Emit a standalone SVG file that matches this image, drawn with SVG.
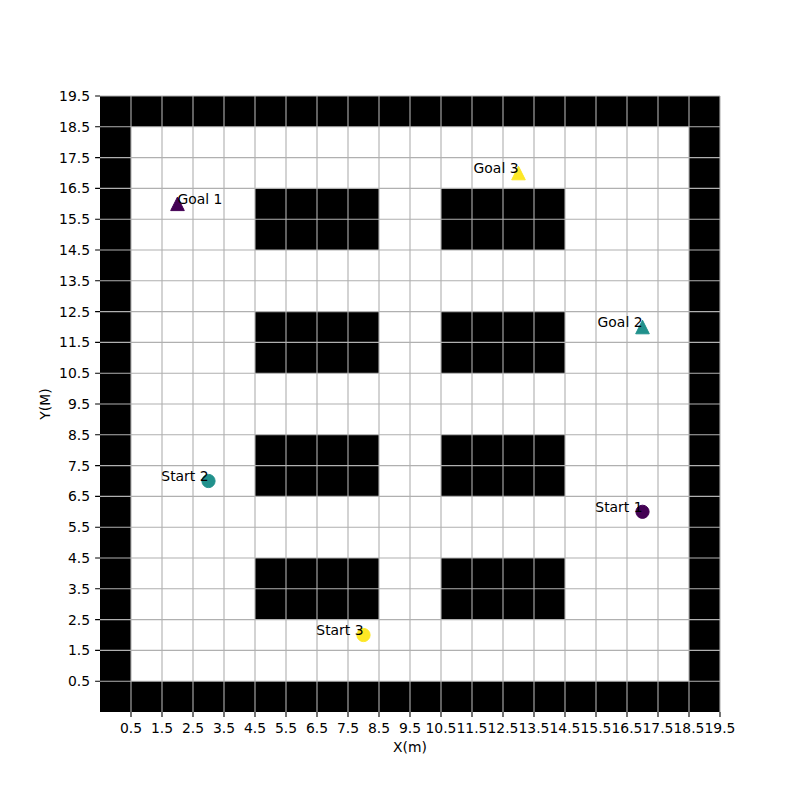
<svg xmlns="http://www.w3.org/2000/svg" width="800" height="800" viewBox="0 0 800 800">
<style>
text{font-family:"DejaVu Sans","Liberation Sans",sans-serif;font-size:13.9px;fill:#000}
.g{stroke:#b0b0b0;stroke-width:1.1}
.t{stroke:#000;stroke-width:1.1}
.xl text{text-anchor:middle}
.yl text{text-anchor:end}
.obs{fill:#000}
</style>
<rect width="800" height="800" fill="#fff"/>
<g id="map">
<rect x="100" y="96" width="620" height="616" fill="#000"/>
<rect x="131" y="126.8" width="558" height="554.4" fill="#fff"/>
<rect class="obs" x="255" y="188.4" width="124" height="61.6"/>
<rect class="obs" x="441" y="188.4" width="124" height="61.6"/>
<rect class="obs" x="255" y="311.6" width="124" height="61.6"/>
<rect class="obs" x="441" y="311.6" width="124" height="61.6"/>
<rect class="obs" x="255" y="434.8" width="124" height="61.6"/>
<rect class="obs" x="441" y="434.8" width="124" height="61.6"/>
<rect class="obs" x="255" y="558" width="124" height="61.6"/>
<rect class="obs" x="441" y="558" width="124" height="61.6"/>
</g>
<g id="grid" class="g">
<path d="M131 96V712M162 96V712M193 96V712M224 96V712M255 96V712M286 96V712M317 96V712M348 96V712M379 96V712M410 96V712M441 96V712M472 96V712M503 96V712M534 96V712M565 96V712M596 96V712M627 96V712M658 96V712M689 96V712M720 96V712"/>
<path d="M100 681.2H720M100 650.4H720M100 619.6H720M100 588.8H720M100 558H720M100 527.2H720M100 496.4H720M100 465.6H720M100 434.8H720M100 404H720M100 373.2H720M100 342.4H720M100 311.6H720M100 280.8H720M100 250H720M100 219.2H720M100 188.4H720M100 157.6H720M100 126.8H720M100 96H720"/>
</g>
<g id="ticks" class="t">
<path d="M131 712v4.9M162 712v4.9M193 712v4.9M224 712v4.9M255 712v4.9M286 712v4.9M317 712v4.9M348 712v4.9M379 712v4.9M410 712v4.9M441 712v4.9M472 712v4.9M503 712v4.9M534 712v4.9M565 712v4.9M596 712v4.9M627 712v4.9M658 712v4.9M689 712v4.9M720 712v4.9"/>
<path d="M100 681.2h-4.9M100 650.4h-4.9M100 619.6h-4.9M100 588.8h-4.9M100 558h-4.9M100 527.2h-4.9M100 496.4h-4.9M100 465.6h-4.9M100 434.8h-4.9M100 404h-4.9M100 373.2h-4.9M100 342.4h-4.9M100 311.6h-4.9M100 280.8h-4.9M100 250h-4.9M100 219.2h-4.9M100 188.4h-4.9M100 157.6h-4.9M100 126.8h-4.9M100 96h-4.9"/>
</g>
<g id="xlabels" class="xl">
<text x="131" y="733">0.5</text><text x="162" y="733">1.5</text><text x="193" y="733">2.5</text><text x="224" y="733">3.5</text><text x="255" y="733">4.5</text><text x="286" y="733">5.5</text><text x="317" y="733">6.5</text><text x="348" y="733">7.5</text><text x="379" y="733">8.5</text><text x="410" y="733">9.5</text><text x="441" y="733">10.5</text><text x="472" y="733">11.5</text><text x="503" y="733">12.5</text><text x="534" y="733">13.5</text><text x="565" y="733">14.5</text><text x="596" y="733">15.5</text><text x="627" y="733">16.5</text><text x="658" y="733">17.5</text><text x="689" y="733">18.5</text><text x="720" y="733">19.5</text>
</g>
<g id="ylabels" class="yl">
<text x="90" y="686.2">0.5</text><text x="90" y="655.4">1.5</text><text x="90" y="624.6">2.5</text><text x="90" y="593.8">3.5</text><text x="90" y="563">4.5</text><text x="90" y="532.2">5.5</text><text x="90" y="501.4">6.5</text><text x="90" y="470.6">7.5</text><text x="90" y="439.8">8.5</text><text x="90" y="409">9.5</text><text x="90" y="378.2">10.5</text><text x="90" y="347.4">11.5</text><text x="90" y="316.6">12.5</text><text x="90" y="285.8">13.5</text><text x="90" y="255">14.5</text><text x="90" y="224.2">15.5</text><text x="90" y="193.4">16.5</text><text x="90" y="162.6">17.5</text><text x="90" y="131.8">18.5</text><text x="90" y="101">19.5</text>
</g>
<text id="xtitle" x="410" y="752" text-anchor="middle">X(m)</text>
<text id="ytitle" transform="translate(50 404) rotate(-90)" text-anchor="middle">Y(M)</text>
<g id="goal1"><polygon points="177.5,197 170.7,210.6 184.3,210.6" fill="#440154" stroke="#440154" stroke-width="1"/><text x="177.5" y="203.8">Goal 1</text></g>
<g id="goal2"><polygon points="642.5,320.2 635.7,333.8 649.3,333.8" fill="#21918c" stroke="#21918c" stroke-width="1"/><text x="642.5" y="327" text-anchor="end">Goal 2</text></g>
<g id="goal3"><polygon points="518.5,166.2 511.7,179.8 525.3,179.8" fill="#fde725" stroke="#fde725" stroke-width="1"/><text x="518.5" y="173" text-anchor="end">Goal 3</text></g>
<g id="start1"><circle cx="642.5" cy="511.8" r="6.6" fill="#440154" stroke="#440154" stroke-width="1"/><text x="642.5" y="511.8" text-anchor="end">Start 1</text></g>
<g id="start2"><circle cx="208.5" cy="481" r="6.6" fill="#21918c" stroke="#21918c" stroke-width="1"/><text x="208.5" y="481" text-anchor="end">Start 2</text></g>
<g id="start3"><circle cx="363.5" cy="635" r="6.6" fill="#fde725" stroke="#fde725" stroke-width="1"/><text x="363.5" y="635" text-anchor="end">Start 3</text></g>
</svg>
